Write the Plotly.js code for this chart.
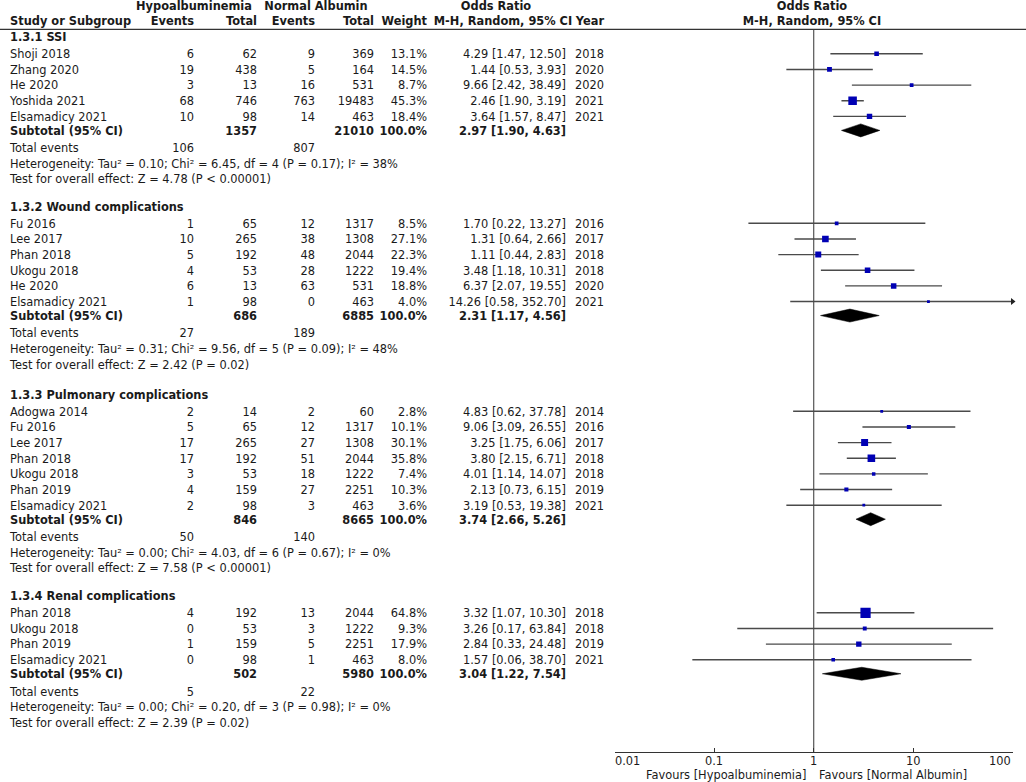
<!DOCTYPE html>
<html><head><meta charset="utf-8">
<script src="https://cdn.plot.ly/plotly-3.0.1.min.js"></script>
<style>html,body{margin:0;padding:0;background:#fff}#chart{width:1026px;height:782px}</style>
</head><body><div id="chart"></div>
<script>
// ---------------- DATA ----------------
const groupNames = ["1.3.1 SSI", "1.3.2 Wound complications", "1.3.3 Pulmonary complications", "1.3.4 Renal complications"];
const studyGroup = [0,0,0,0,0, 1,1,1,1,1,1, 2,2,2,2,2,2,2, 3,3,3,3];
const studyNames = ["Shoji 2018","Zhang 2020","He 2020","Yoshida 2021","Elsamadicy 2021",
  "Fu 2016","Lee 2017","Phan 2018","Ukogu 2018","He 2020","Elsamadicy 2021",
  "Adogwa 2014","Fu 2016","Lee 2017","Phan 2018","Ukogu 2018","Phan 2019","Elsamadicy 2021",
  "Phan 2018","Ukogu 2018","Phan 2019","Elsamadicy 2021"];
const hypoEvents = [6,19,3,68,10, 1,10,5,4,6,1, 2,5,17,17,3,4,2, 4,0,1,0];
const hypoTotal = [62,438,13,746,98, 65,265,192,53,13,98, 14,65,265,192,53,159,98, 192,53,159,98];
const normEvents = [9,5,16,763,14, 12,38,48,28,63,0, 2,12,27,51,18,27,3, 13,3,5,1];
const normTotal = [369,164,531,19483,463, 1317,1308,2044,1222,531,463, 60,1317,1308,2044,1222,2251,463, 2044,1222,2251,463];
const weights = [13.1,14.5,8.7,45.3,18.4, 8.5,27.1,22.3,19.4,18.8,4.0, 2.8,10.1,30.1,35.8,7.4,10.3,3.6, 64.8,9.3,17.9,8.0];
const oddsRatio = [4.29,1.44,9.66,2.46,3.64, 1.70,1.31,1.11,3.48,6.37,14.26, 4.83,9.06,3.25,3.80,4.01,2.13,3.19, 3.32,3.26,2.84,1.57];
const ciLow = [1.47,0.53,2.42,1.90,1.57, 0.22,0.64,0.44,1.18,2.07,0.58, 0.62,3.09,1.75,2.15,1.14,0.73,0.53, 1.07,0.17,0.33,0.06];
const ciHigh = [12.50,3.93,38.49,3.19,8.47, 13.27,2.66,2.83,10.31,19.55,352.70, 37.78,26.55,6.06,6.71,14.07,6.15,19.38, 10.30,63.84,24.48,38.70];
const years = [2018,2020,2020,2021,2021, 2016,2017,2018,2018,2020,2021, 2014,2016,2017,2018,2018,2019,2021, 2018,2018,2019,2021];

const subHypoTotal = [1357,686,846,502];
const subNormTotal = [21010,6885,8665,5980];
const subOR = [2.97,2.31,3.74,3.04];
const subLow = [1.90,1.17,2.66,1.22];
const subHigh = [4.63,4.56,5.26,7.54];
const totHypoEvents = [106,27,50,5];
const totNormEvents = [807,189,140,22];
const tau2 = ["0.10","0.31","0.00","0.00"];
const chi2 = ["6.45","9.56","4.03","0.20"];
const dfVal = [4,5,6,3];
const hetP = ["0.17","0.09","0.67","0.98"];
const i2 = [38,48,0,0];
const zVal = ["4.78","2.42","7.58","2.39"];
const zP = ["P < 0.00001","P = 0.02","P < 0.00001","P = 0.02"];

const axisTicks = [0.01,0.1,1,10,100];
const axisTickText = ["0.01","0.1","1","10","100"];
const favoursLeft = "Favours [Hypoalbuminemia]";
const favoursRight = "Favours [Normal Albumin]";

// ---------------- LAYOUT CONSTANTS ----------------
const FONT = "DejaVu Sans, Verdana, sans-serif";
const FS = 11.4;
const TXT = "#1a1a1a";
const TEXT_DY = 1.5;
const SECTION_Y = [37, 206.5, 394.5, 596];
const GAP_HEAD = 16.8, STEP = 15.65, GAP_SUB = 14, GAP_TOT = 17.5, STEP_FOOT = 15.6;
const COL = {name:10, hEv:194, hTot:257, nEv:315, nTot:374, w:427, or:566, yr:604};
const HEAD1_Y = 6, HEAD2_Y = 21, RULE_Y = 29.3, AXIS_Y = 752.3;
const X_LO_PX = 615, X_HI_PX = 1012.5, W = 1026, H = 782;

// ---------------- BUILD ROWS ----------------
const studyY = [];
const subY = [], totY = [], hetY = [], testY = [];
groupNames.forEach((g, gi) => {
  let y = SECTION_Y[gi] + GAP_HEAD;
  let last = y;
  studyGroup.forEach((sg, i) => {
    if (sg === gi) { studyY[i] = y; last = y; y += STEP; }
  });
  subY[gi] = last + GAP_SUB;
  totY[gi] = subY[gi] + GAP_TOT;
  hetY[gi] = totY[gi] + STEP_FOOT;
  testY[gi] = hetY[gi] + STEP_FOOT;
});

const fmt2 = v => v.toFixed(2);
const orText = (o, l, h) => `${fmt2(o)} [${fmt2(l)}, ${fmt2(h)}]`;

const cols = {};
function put(key, x, pos, y, text) {
  if (!cols[key]) cols[key] = {pos: pos, xs: [], ys: [], texts: []};
  cols[key].xs.push(x); cols[key].ys.push(y + TEXT_DY); cols[key].texts.push(text);
}
// headers
put("hdrC", 194, "middle center", HEAD1_Y, "<b>Hypoalbuminemia</b>");
put("hdrC", 316, "middle center", HEAD1_Y, "<b>Normal Albumin</b>");
put("hdrC", 496, "middle center", HEAD1_Y, "<b>Odds Ratio</b>");
put("hdrC", 812, "middle center", HEAD1_Y, "<b>Odds Ratio</b>");
put("name", COL.name, "middle right", HEAD2_Y, "<b>Study or Subgroup</b>");
put("hEv", COL.hEv, "middle left", HEAD2_Y, "<b>Events</b>");
put("hTot", COL.hTot, "middle left", HEAD2_Y, "<b>Total</b>");
put("nEv", COL.nEv, "middle left", HEAD2_Y, "<b>Events</b>");
put("nTot", COL.nTot, "middle left", HEAD2_Y, "<b>Total</b>");
put("w", COL.w, "middle left", HEAD2_Y, "<b>Weight</b>");
put("hdrC", 503, "middle center", HEAD2_Y, "<b>M-H, Random, 95% CI</b>");
put("yr", COL.yr, "middle left", HEAD2_Y, "<b>Year</b>");
put("hdrC", 812, "middle center", HEAD2_Y, "<b>M-H, Random, 95% CI</b>");

groupNames.forEach((g, gi) => {
  put("name", COL.name, "middle right", SECTION_Y[gi], `<b>${g}</b>`);
});
studyNames.forEach((s, i) => {
  const y = studyY[i];
  put("name", COL.name, "middle right", y, s);
  put("hEv", COL.hEv, "middle left", y, String(hypoEvents[i]));
  put("hTot", COL.hTot, "middle left", y, String(hypoTotal[i]));
  put("nEv", COL.nEv, "middle left", y, String(normEvents[i]));
  put("nTot", COL.nTot, "middle left", y, String(normTotal[i]));
  put("w", COL.w, "middle left", y, weights[i].toFixed(1) + "%");
  put("or", COL.or, "middle left", y, orText(oddsRatio[i], ciLow[i], ciHigh[i]));
  put("yr", COL.yr, "middle left", y, String(years[i]));
});
groupNames.forEach((g, gi) => {
  put("name", COL.name, "middle right", subY[gi], "<b>Subtotal (95% CI)</b>");
  put("hTot", COL.hTot, "middle left", subY[gi], `<b>${subHypoTotal[gi]}</b>`);
  put("nTot", COL.nTot, "middle left", subY[gi], `<b>${subNormTotal[gi]}</b>`);
  put("w", COL.w, "middle left", subY[gi], "<b>100.0%</b>");
  put("or", COL.or, "middle left", subY[gi], `<b>${orText(subOR[gi], subLow[gi], subHigh[gi])}</b>`);
  put("name", COL.name, "middle right", totY[gi], "Total events");
  put("hEv", COL.hEv, "middle left", totY[gi], String(totHypoEvents[gi]));
  put("nEv", COL.nEv, "middle left", totY[gi], String(totNormEvents[gi]));
  put("name", COL.name, "middle right", hetY[gi],
    `Heterogeneity: Tau² = ${tau2[gi]}; Chi² = ${chi2[gi]}, df = ${dfVal[gi]} (P = ${hetP[gi]}); I² = ${i2[gi]}%`);
  put("name", COL.name, "middle right", testY[gi], `Test for overall effect: Z = ${zVal[gi]} (${zP[gi]})`);
});

const traces = [];
Object.keys(cols).forEach(k => {
  const c = cols[k];
  traces.push({
    type: "scatter", mode: "text", x: c.xs, y: c.ys, text: c.texts,
    textposition: c.pos, textfont: {family: FONT, size: FS, color: TXT},
    xaxis: "x", yaxis: "y", hoverinfo: "skip", showlegend: false, cliponaxis: false
  });
});

// ---------------- FOREST PLOT ----------------
traces.push({type: "scatter", mode: "lines", x: [1, 1], y: [RULE_Y, AXIS_Y],
  line: {color: "#333", width: 1}, xaxis: "x2", yaxis: "y", hoverinfo: "skip", showlegend: false});

const ciX = [], ciYs = [], arrX = [], arrY = [];
studyNames.forEach((s, i) => {
  ciX.push(ciLow[i], Math.min(ciHigh[i], 100), null);
  ciYs.push(studyY[i], studyY[i], null);
  if (ciHigh[i] > 100) { arrX.push(100); arrY.push(studyY[i]); }
});
traces.push({type: "scatter", mode: "lines", x: ciX, y: ciYs,
  line: {color: "#4a4a4a", width: 1.4}, xaxis: "x2", yaxis: "y", hoverinfo: "skip", showlegend: false, connectgaps: false});
traces.push({type: "scatter", mode: "markers", x: arrX, y: arrY,
  marker: {symbol: "triangle-right", size: 6, color: "#222"}, xaxis: "x2", yaxis: "y",
  hoverinfo: "skip", showlegend: false, cliponaxis: false});

traces.push({type: "scatter", mode: "markers", x: oddsRatio, y: studyY,
  marker: {symbol: "square", color: "#0000b4", opacity: 1, size: weights.map(w => Math.max(2.8, 1.27 * Math.sqrt(w))), line: {width: 0}},
  xaxis: "x2", yaxis: "y", hoverinfo: "skip", showlegend: false});

const dX = [], dY = [];
const DH = 6.5;
subOR.forEach((o, gi) => {
  const y = subY[gi];
  dX.push(subLow[gi], o, subHigh[gi], o, subLow[gi], null);
  dY.push(y, y - DH, y, y + DH, y, null);
});
traces.push({type: "scatter", mode: "lines", x: dX, y: dY, fill: "toself", fillcolor: "#000",
  line: {color: "#000", width: 0.5}, xaxis: "x2", yaxis: "y", hoverinfo: "skip", showlegend: false});

// ---------------- ANNOTATIONS (axis labels) ----------------
const annotations = [];
axisTicks.forEach((t, i) => {
  const anchor = i === 0 ? "left" : (i === axisTicks.length - 1 ? "right" : "center");
  annotations.push({xref: "x2", yref: "y", x: Math.log10(t), y: 761, text: axisTickText[i],
    showarrow: false, xanchor: anchor, yanchor: "middle", font: {family: FONT, size: FS, color: TXT},
    xshift: i === 0 ? -2 : 0});
});
annotations.push({xref: "x", yref: "y", x: 808, y: 775, text: favoursLeft, showarrow: false,
  xanchor: "right", yanchor: "middle", font: {family: FONT, size: FS, color: TXT}});
annotations.push({xref: "x", yref: "y", x: 817, y: 775, text: favoursRight, showarrow: false,
  xanchor: "left", yanchor: "middle", font: {family: FONT, size: FS, color: TXT}});

const layout = {
  width: W, height: H, autosize: false,
  margin: {l: 0, r: 0, t: 0, b: 0, pad: 0},
  paper_bgcolor: "#fff", plot_bgcolor: "rgba(0,0,0,0)",
  showlegend: false, hovermode: false,
  xaxis: {range: [0, W], domain: [0, 1], visible: false, fixedrange: true},
  yaxis: {range: [H, 0], domain: [0, 1], visible: false, fixedrange: true},
  xaxis2: {type: "log", range: [-2, 2], domain: [X_LO_PX / W, X_HI_PX / W], anchor: "free",
    position: 1 - AXIS_Y / H, showline: true, linecolor: "#333", linewidth: 1,
    ticks: "inside", ticklen: 4, tickwidth: 1, tickcolor: "#333",
    tickvals: axisTicks, showticklabels: false, showgrid: false, zeroline: false, fixedrange: true},
  xaxis3: {type: "log", range: [-2, 2], domain: [X_LO_PX / W, X_HI_PX / W], anchor: "free",
    overlaying: "x2", position: 1 - AXIS_Y / H, showline: false,
    ticks: "outside", ticklen: 3, tickwidth: 1, tickcolor: "#333",
    tickvals: axisTicks, showticklabels: false, showgrid: false, zeroline: false, fixedrange: true},
  shapes: [{type: "line", xref: "x", yref: "y", x0: 0, x1: W, y0: RULE_Y, y1: RULE_Y,
    line: {color: "#333", width: 1.2}}],
  annotations: annotations
};

Plotly.newPlot("chart", traces, layout, {displayModeBar: false, staticPlot: true});
</script>
</body></html>
